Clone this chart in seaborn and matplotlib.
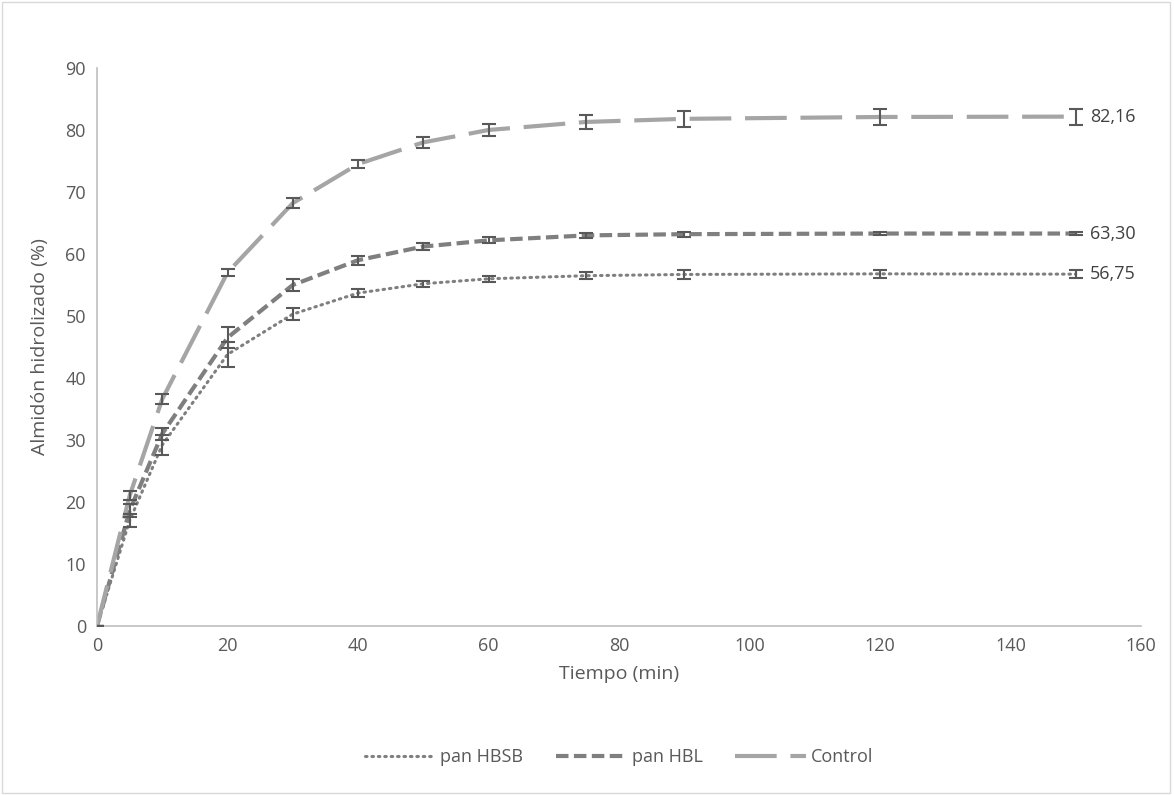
import seaborn as sns
import pandas as pd
import matplotlib
matplotlib.use('Agg')
from matplotlib import pyplot as plt
from matplotlib.patches import Rectangle

tiempo = [0, 5, 10, 20, 30, 40, 50, 60, 75, 90, 120, 150]

hbsb = [0, 17.0, 29.2, 43.8, 50.3, 53.7, 55.2, 56.0, 56.5, 56.7, 56.8, 56.75]
hbsb_err = [0, 1.0, 1.6, 2.0, 1.0, 0.6, 0.5, 0.5, 0.6, 0.7, 0.7, 0.7]

hbl = [0, 18.6, 31.0, 46.5, 55.0, 59.0, 61.2, 62.2, 63.0, 63.2, 63.3, 63.30]
hbl_err = [0, 1.0, 1.0, 1.7, 1.0, 0.7, 0.6, 0.5, 0.4, 0.4, 0.3, 0.3]

control = [0, 21.0, 36.6, 57.0, 68.2, 74.5, 78.0, 80.0, 81.3, 81.8, 82.1, 82.16]
control_err = [0, 0.7, 0.8, 0.6, 0.8, 0.6, 0.9, 1.0, 1.2, 1.3, 1.3, 1.3]

series = ['pan HBSB', 'pan HBL', 'Control']
etiquetas = ['56,75', '63,30', '82,16']

df = pd.DataFrame({
    'Tiempo': tiempo * 3,
    'Almidon': hbsb + hbl + control,
    'err': hbsb_err + hbl_err + control_err,
    'Serie': [s for s in series for _ in tiempo],
})

sns.set_style('white')
plt.rcParams['font.family'] = ['Open Sans', 'DejaVu Sans']

fig = plt.figure(figsize=(11.74, 7.95), dpi=100)
ax = fig.add_axes([97 / 1174, 1 - 626 / 795, (1141 - 97) / 1174, (626 - 68) / 795])

colores = {'pan HBSB': '#7f7f7f', 'pan HBL': '#7f7f7f', 'Control': '#a5a5a5'}
anchos = {'pan HBSB': 2.2, 'pan HBL': 3.0, 'Control': 3.0}
estilos = {'pan HBSB': (0.5, 1.6), 'pan HBL': (3, 1.3), 'Control': (10, 3.3)}

for s in series:
    d = df[df['Serie'] == s]
    sns.lineplot(data=d, x='Tiempo', y='Almidon', ax=ax, color=colores[s],
                 linewidth=anchos[s], label=s, dashes=False,
                 dash_capstyle='round' if s == 'pan HBSB' else 'butt')
    ax.lines[-1].set_dashes(estilos[s])
    ax.errorbar(d['Tiempo'], d['Almidon'], yerr=d['err'], fmt='none',
                ecolor='#595959', elinewidth=1.5, capsize=5, capthick=1.5, zorder=5)

for s, lab in zip(series, etiquetas):
    d = df[df['Serie'] == s]
    ax.annotate(lab, (d['Tiempo'].iloc[-1], d['Almidon'].iloc[-1]),
                xytext=(10, 0), textcoords='offset points', va='center',
                fontsize=13, color='#404040')

ax.set_xlim(0, 160)
ax.set_ylim(0, 90)
ax.set_xticks(range(0, 161, 20))
ax.set_yticks(range(0, 91, 10))
ax.set_xlabel('Tiempo (min)', fontsize=14, color='#595959', labelpad=7)
ax.set_ylabel('Almidón hidrolizado (%)', fontsize=14, color='#595959', labelpad=12)
ax.tick_params(axis='both', colors='#595959', labelsize=13, length=0, pad=8)
for side in ['top', 'right']:
    ax.spines[side].set_visible(False)
for side in ['left', 'bottom']:
    ax.spines[side].set_color('#bfbfbf')
    ax.spines[side].set_linewidth(1.2)

ax.legend(loc='upper center', bbox_to_anchor=(0.5, -0.19), ncol=3, frameon=False,
          fontsize=13, handlelength=3.9, handletextpad=0.3, columnspacing=1.8,
          labelcolor='#595959')

fig.patches.append(Rectangle((2 / 1174, 2 / 795), 1168 / 1174, 791 / 795,
                             transform=fig.transFigure, fill=False,
                             edgecolor='#d9d9d9', linewidth=1))

plt.savefig('out.png', dpi=100)
